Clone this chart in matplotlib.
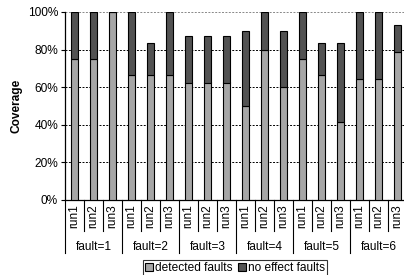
import matplotlib
matplotlib.use("Agg")
import matplotlib.pyplot as plt
from matplotlib.patches import Patch
import matplotlib.transforms as mtrans

plt.rcParams['font.family'] = ['Liberation Sans', 'DejaVu Sans']
plt.rcParams['font.size'] = 8.6

groups = ["fault=1", "fault=2", "fault=3", "fault=4", "fault=5", "fault=6"]
runs = ["run1", "run2", "run3"]
detected = [75, 75, 100,
            66.7, 66.7, 66.7,
            62.5, 62.5, 62.5,
            50, 80, 60,
            75, 66.7, 41.7,
            64.3, 64.3, 78.6]
no_effect = [25, 25, 0,
             33.3, 16.6, 33.3,
             25, 25, 25,
             40, 20, 30,
             25, 16.6, 41.6,
             35.7, 35.7, 14.3]
yticks = [0, 20, 40, 60, 80, 100]

W, H = 404, 275
fs = 8.6
fig = plt.figure(figsize=(W/100, H/100), dpi=100)
ax = fig.add_axes([65/W, 1-200/H, 342/W, 188/H])

n = len(detected)
xs = list(range(n))
light = '#a6a6a6'
dark = '#525252'
ax.bar(xs, detected, width=0.42, color=light, edgecolor='black', linewidth=0.8, zorder=3)
ax.bar(xs, no_effect, bottom=detected, width=0.42, color=dark, edgecolor='black', linewidth=0.8, zorder=3)

ax.set_xlim(-0.5, n-0.5)
ax.set_ylim(0, 100)
ax.set_yticks(yticks)
ax.set_yticklabels([f"{v}%" for v in yticks], fontsize=fs)
for v in yticks[1:-1]:
    ax.axhline(v, color='black', linestyle=(0, (2, 1.5)), linewidth=0.7, zorder=1)
ax.axhline(100, color='#888888', linestyle=(0, (2, 1.5)), linewidth=0.7, zorder=1)

for s in ['top', 'right']:
    ax.spines[s].set_visible(False)
ax.spines['left'].set_linewidth(0.9)
ax.spines['bottom'].set_linewidth(0.9)
ax.tick_params(axis='y', length=3, width=0.8, pad=2)
ax.tick_params(axis='x', length=0, labelbottom=False)
ax.set_ylabel("Coverage", fontweight='bold', labelpad=4, fontsize=fs)

trans = mtrans.blended_transform_factory(ax.transData, ax.transAxes)
run_depth = -31/188
grp_depth = -53/188
for i in range(n+1):
    x = i - 0.5
    d = grp_depth if i % 3 == 0 else run_depth
    ax.plot([x, x], [0, d], color='black', linewidth=0.8, transform=trans, clip_on=False)
for i in range(n):
    ax.text(xs[i], -0.025, runs[i % 3], rotation=90, ha='center', va='top',
            transform=trans, fontsize=fs)
for g, name in enumerate(groups):
    ax.text(3*g+1, -47/188, name, ha='center', va='center', transform=trans, fontsize=fs)

handles = [Patch(facecolor=light, edgecolor='black', linewidth=0.8, label='detected faults'),
           Patch(facecolor=dark, edgecolor='black', linewidth=0.8, label='no effect faults')]
leg = fig.legend(handles=handles, loc='center', bbox_to_anchor=(235/W, 1-268/H), ncol=2,
                 frameon=True, fancybox=False, edgecolor='black', handlelength=0.7,
                 handleheight=0.7, handletextpad=0.2, columnspacing=0.4,
                 borderpad=0.15, borderaxespad=0, fontsize=fs)
leg.get_frame().set_linewidth(0.8)

fig.savefig("out.png", dpi=100)
